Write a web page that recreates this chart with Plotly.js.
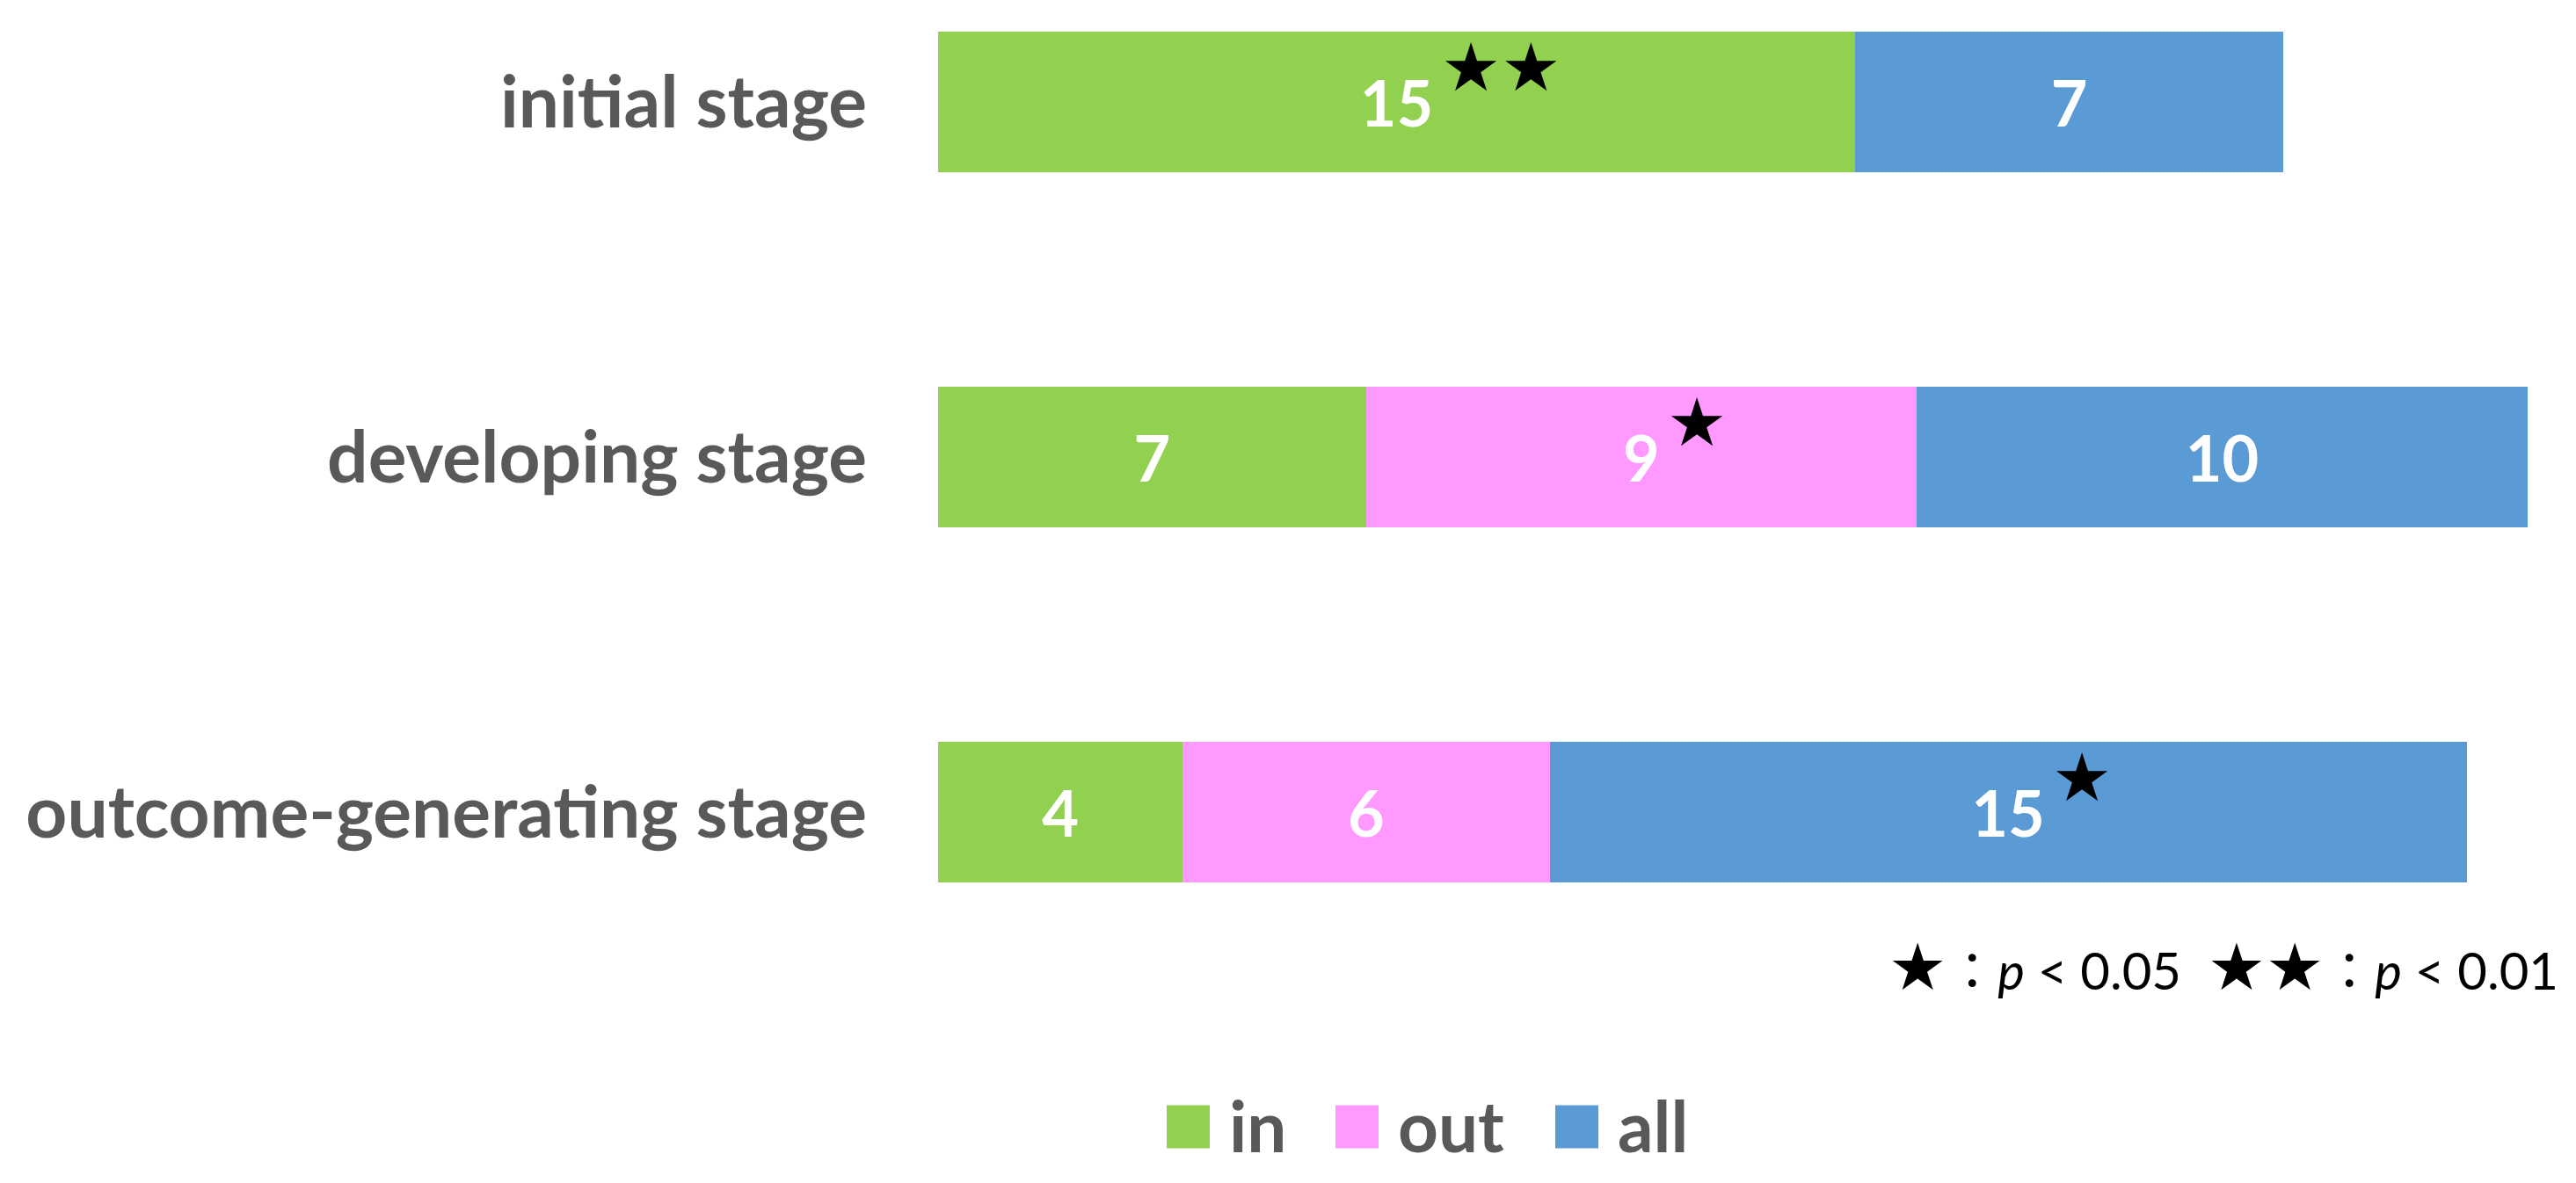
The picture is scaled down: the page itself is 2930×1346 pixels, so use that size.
<!DOCTYPE html>
<html>
<head>
<meta charset="utf-8">
<script src="https://cdn.plot.ly/plotly-3.0.1.min.js"></script>
<style>
  html, body { margin: 0; padding: 0; background: #fff; }
  #chart { width: 2930px; height: 1346px; }
</style>
</head>
<body>
<div id="chart"></div>
<script>
// data
const stages = ['initial stage', 'developing stage', 'outcome-generating stage'];
const inVals = [15, 7, 4];
const outVals = [null, 9, 6];
const allVals = [7, 10, 15];
const seriesNames = ['in', 'out', 'all'];
// significance marks drawn next to each segment label
const sigIn = ['★★', '', ''];
const sigOut = ['', '★', ''];
const sigAll = ['', '', '★'];

const seriesColors = ['#92D050', '#FF99FF', '#5B9BD5'];
const textGrey = '#595959';

const W = 2930, H = 1346;
const M = { l: 1067, r: 20, t: 20, b: 306 };
const plotW = W - M.l - M.r;
const plotH = H - M.t - M.b;
const px = x => (x - M.l) / plotW;
const py = y => (M.t + plotH - y) / plotH;

const seriesVals = [inVals, outVals, allVals];
const sigs = [sigIn, sigOut, sigAll];

const traces = seriesVals.map((vals, i) => ({
    type: 'bar',
    orientation: 'h',
    name: seriesNames[i],
    y: stages,
    x: vals,
    text: vals.map(v => (v === null ? '' : String(v))),
    textposition: 'inside',
    insidetextanchor: 'middle',
    textfont: { family: 'Lato, sans-serif', size: 72, color: '#ffffff', weight: 'bold' },
    marker: { color: seriesColors[i], line: { width: 0 } },
    hoverinfo: 'skip'
}));

// stars placed just right of the label of the marked segment
const annotations = [];
stages.forEach((stage, j) => {
    let start = 0;
    seriesVals.forEach((vals, i) => {
        const v = vals[j] || 0;
        if (sigs[i][j]) {
            annotations.push({
                x: start + v / 2,
                y: stage,
                xref: 'x',
                yref: 'y',
                text: sigs[i][j],
                showarrow: false,
                xanchor: 'left',
                yanchor: 'middle',
                xshift: String(v).length * 21 + 6,
                yshift: 40,
                font: { family: 'DejaVu Sans', size: 76, color: '#000000' }
            });
        }
        start += v;
    });
});

// significance note
annotations.push({
    x: px(2912),
    y: py(1100),
    xref: 'paper',
    yref: 'paper',
    xanchor: 'right',
    yanchor: 'middle',
    showarrow: false,
    text: '<span style="font-family:DejaVu Sans;font-size:74px">★</span>：<i>p</i> &lt; 0.05' +
          '\u00a0\u00a0<span style="font-family:DejaVu Sans;font-size:74px">★★</span>：<i>p</i> &lt; 0.01',
    font: { family: 'Lato, Noto Sans CJK JP, sans-serif', size: 58, color: '#000000' }
});

// legend, drawn large to match the boxes of the original
const legendX = [1327, 1519, 1769];
const legendY = 1282;
const box = 49;
const shapes = [];
seriesNames.forEach((name, i) => {
    shapes.push({
        type: 'rect',
        xref: 'paper', yref: 'paper',
        x0: px(legendX[i]), x1: px(legendX[i] + box),
        y0: py(legendY + box / 2), y1: py(legendY - box / 2),
        fillcolor: seriesColors[i],
        line: { width: 0 }
    });
    annotations.push({
        x: px(legendX[i] + box + 20),
        y: py(legendY - 2),
        xref: 'paper', yref: 'paper',
        xanchor: 'left', yanchor: 'middle',
        showarrow: false,
        text: name,
        font: { family: 'Lato, sans-serif', size: 80, color: textGrey, weight: 'bold' }
    });
});

const layout = {
    width: W,
    height: H,
    margin: M,
    barmode: 'stack',
    bargap: 0.604,
    showlegend: false,
    paper_bgcolor: '#ffffff',
    plot_bgcolor: '#ffffff',
    hovermode: false,
    xaxis: {
        range: [0, plotW / 69.55],
        autorange: false,
        showgrid: false,
        zeroline: false,
        showline: false,
        showticklabels: false,
        ticks: ''
    },
    yaxis: {
        type: 'category',
        categoryorder: 'array',
        categoryarray: stages.slice().reverse(),
        range: [-0.287, 2.2376],
        autorange: false,
        showgrid: false,
        zeroline: false,
        showline: false,
        ticks: '',
        ticklabelstandoff: 80,
        tickfont: { family: 'Lato, sans-serif', size: 82, color: textGrey, weight: 'bold' }
    },
    annotations: annotations,
    shapes: shapes
};

Plotly.newPlot('chart', traces, layout, { staticPlot: true, displayModeBar: false });
</script>
</body>
</html>
